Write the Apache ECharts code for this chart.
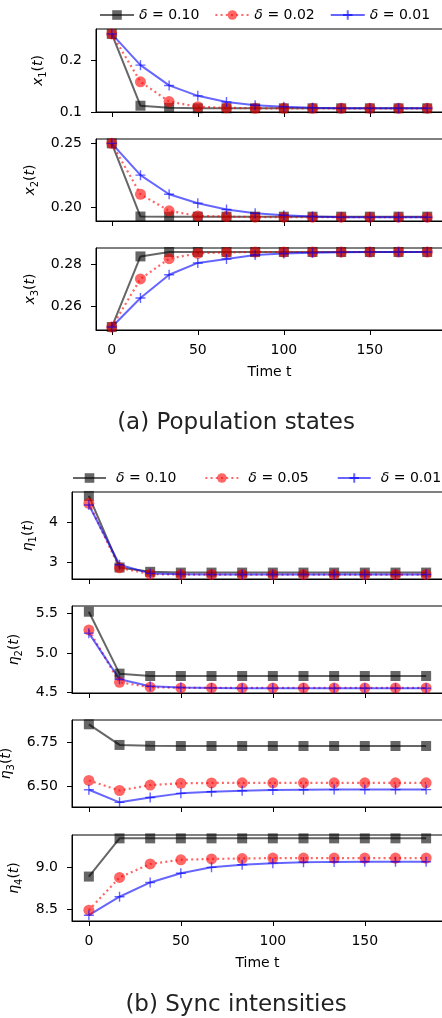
<!DOCTYPE html>
<html>
<head>
<meta charset="UTF-8">
<title>Population states / Sync intensities</title>
<script src="https://cdn.jsdelivr.net/npm/echarts@6/dist/echarts.min.js"></script>
<style>
  html, body { margin: 0; padding: 0; background: #fff; }
  #main { width: 442px; height: 1018px; }
</style>
</head>
<body>
<div id="main"></div>
<script>
// time samples, shared by every subplot
var T = [0, 16.67, 33.33, 50, 66.67, 83.33, 100, 116.67, 133.33, 150, 166.67, 183.33];
var ticksX = [0, 50, 100, 150];

// (a) population states
var x1_d10 = [0.250, 0.112, 0.108, 0.107, 0.107, 0.107, 0.107, 0.107, 0.107, 0.107, 0.107, 0.107];
var x1_d02 = [0.250, 0.158, 0.120, 0.110, 0.108, 0.107, 0.107, 0.107, 0.107, 0.107, 0.107, 0.107];
var x1_d01 = [0.250, 0.190, 0.151, 0.131, 0.119, 0.113, 0.110, 0.108, 0.107, 0.107, 0.107, 0.107];

var x2_d10 = [0.250, 0.1925, 0.1924, 0.1924, 0.1924, 0.1924, 0.1924, 0.1924, 0.1924, 0.1924, 0.1924, 0.1924];
var x2_d02 = [0.250, 0.210, 0.197, 0.193, 0.1925, 0.192, 0.192, 0.192, 0.192, 0.192, 0.192, 0.192];
var x2_d01 = [0.250, 0.225, 0.210, 0.203, 0.198, 0.195, 0.1935, 0.1925, 0.192, 0.192, 0.192, 0.192];

var x3_d10 = [0.250, 0.2836, 0.2857, 0.2857, 0.2857, 0.2857, 0.2857, 0.2857, 0.2857, 0.2857, 0.2857, 0.2857];
var x3_d02 = [0.250, 0.2729, 0.2825, 0.2851, 0.2855, 0.2857, 0.2857, 0.2857, 0.2857, 0.2857, 0.2857, 0.2857];
var x3_d01 = [0.250, 0.2638, 0.2749, 0.2805, 0.2824, 0.2843, 0.2850, 0.2853, 0.2856, 0.2857, 0.2857, 0.2857];

// (b) sync intensities
var e1_d10 = [4.68, 2.86, 2.75, 2.73, 2.73, 2.73, 2.73, 2.73, 2.73, 2.73, 2.73, 2.73];
var e1_d05 = [4.49, 2.85, 2.69, 2.68, 2.68, 2.68, 2.68, 2.68, 2.68, 2.68, 2.68, 2.68];
var e1_d01 = [4.45, 2.93, 2.71, 2.69, 2.68, 2.68, 2.68, 2.68, 2.68, 2.68, 2.68, 2.68];

var e2_d10 = [5.52, 4.74, 4.71, 4.71, 4.71, 4.71, 4.71, 4.71, 4.71, 4.71, 4.71, 4.71];
var e2_d05 = [5.29, 4.63, 4.57, 4.56, 4.56, 4.56, 4.56, 4.56, 4.56, 4.56, 4.56, 4.56];
var e2_d01 = [5.25, 4.67, 4.58, 4.565, 4.56, 4.555, 4.555, 4.555, 4.555, 4.555, 4.555, 4.555];

var e3_d10 = [6.848, 6.733, 6.728, 6.727, 6.727, 6.727, 6.727, 6.727, 6.727, 6.727, 6.727, 6.727];
var e3_d05 = [6.535, 6.479, 6.509, 6.519, 6.521, 6.522, 6.522, 6.522, 6.522, 6.522, 6.522, 6.522];
var e3_d01 = [6.483, 6.413, 6.440, 6.463, 6.472, 6.478, 6.482, 6.483, 6.484, 6.484, 6.484, 6.484];

var e4_d10 = [8.89, 9.345, 9.345, 9.345, 9.345, 9.345, 9.345, 9.345, 9.345, 9.345, 9.345, 9.345];
var e4_d05 = [8.49, 8.88, 9.04, 9.09, 9.10, 9.105, 9.11, 9.11, 9.11, 9.11, 9.11, 9.11];
var e4_d01 = [8.43, 8.65, 8.82, 8.93, 9.00, 9.03, 9.05, 9.06, 9.065, 9.067, 9.067, 9.067];

// y ticks and their printed labels
var ticksA1 = [0.1, 0.2],        labA1 = ['0.1', '0.2'];
var ticksA2 = [0.20, 0.25],      labA2 = ['0.20', '0.25'];
var ticksA3 = [0.26, 0.28],      labA3 = ['0.26', '0.28'];
var ticksB1 = [3, 4],            labB1 = ['3', '4'];
var ticksB2 = [4.5, 5.0, 5.5],   labB2 = ['4.5', '5.0', '5.5'];
var ticksB3 = [6.50, 6.75],      labB3 = ['6.50', '6.75'];
var ticksB4 = [8.5, 9.0],        labB4 = ['8.5', '9.0'];

var FONT = 'DejaVu Sans';

var styles = {
    black: {
        symbol: 'rect', symbolSize: 10,
        itemStyle: { color: '#000', opacity: 0.6 },
        lineStyle: { color: '#000', width: 2, opacity: 0.6 }
    },
    red: {
        symbol: 'circle', symbolSize: 11,
        itemStyle: { color: '#f00', opacity: 0.6 },
        lineStyle: { color: '#f00', width: 2.2, type: [2, 3.2], opacity: 0.6 }
    },
    blue: {
        symbol: 'path://M5,0L5,10M0,5L10,5', symbolSize: 10,
        itemStyle: { color: '#00f', borderColor: '#00f', borderWidth: 1.4, opacity: 0.6 },
        lineStyle: { color: '#00f', width: 2, opacity: 0.6 }
    }
};

// layout of the seven subplots
var plots = [
    { left: 96, top: 29,  width: 347, height: 83, min: 0.0999, max: 0.2595, ticks: ticksA1, labs: labA1, name: ['x', '1'], gap: 44, last: false,
      s: [['δ = 0.10', 'black', x1_d10], ['δ = 0.02', 'red', x1_d02], ['δ = 0.01', 'blue', x1_d01]] },
    { left: 96, top: 139, width: 347, height: 82, min: 0.189, max: 0.2534, ticks: ticksA2, labs: labA2, name: ['x', '2'], gap: 54, last: false,
      s: [['δ = 0.10', 'black', x2_d10], ['δ = 0.02', 'red', x2_d02], ['δ = 0.01', 'blue', x2_d01]] },
    { left: 96, top: 248, width: 347, height: 82, min: 0.2486, max: 0.2876, ticks: ticksA3, labs: labA3, name: ['x', '3'], gap: 53, last: true,
      s: [['δ = 0.10', 'black', x3_d10], ['δ = 0.02', 'red', x3_d02], ['δ = 0.01', 'blue', x3_d01]] },
    { left: 72, top: 492, width: 371, height: 87, min: 2.567, max: 4.78, ticks: ticksB1, labs: labB1, name: ['η', '1'], gap: 30, last: false,
      s: [['δ = 0.10', 'black', e1_d10], ['δ = 0.05', 'red', e1_d05], ['δ = 0.01', 'blue', e1_d01]] },
    { left: 72, top: 606, width: 371, height: 87, min: 4.496, max: 5.592, ticks: ticksB2, labs: labB2, name: ['η', '2'], gap: 43, last: false,
      s: [['δ = 0.10', 'black', e2_d10], ['δ = 0.05', 'red', e2_d05], ['δ = 0.01', 'blue', e2_d01]] },
    { left: 72, top: 720, width: 371, height: 87, min: 6.387, max: 6.872, ticks: ticksB3, labs: labB3, name: ['η', '3'], gap: 53, last: false,
      s: [['δ = 0.10', 'black', e3_d10], ['δ = 0.05', 'red', e3_d05], ['δ = 0.01', 'blue', e3_d01]] },
    { left: 72, top: 835, width: 371, height: 86, min: 8.361, max: 9.385, ticks: ticksB4, labs: labB4, name: ['η', '4'], gap: 45, last: true,
      s: [['δ = 0.10', 'black', e4_d10], ['δ = 0.05', 'red', e4_d05], ['δ = 0.01', 'blue', e4_d01]] }
];

var nameRich = {
    i: { fontFamily: FONT, fontSize: 14, fontStyle: 'italic', color: '#000', lineHeight: 20, verticalAlign: 'middle' },
    n: { fontFamily: FONT, fontSize: 14, color: '#000', lineHeight: 20, verticalAlign: 'middle' },
    s: { fontFamily: FONT, fontSize: 10, color: '#000', lineHeight: 12, verticalAlign: 'bottom' }
};

var grids = [], xAxes = [], yAxes = [], series = [];
plots.forEach(function (p, k) {
    grids.push({ left: p.left, top: p.top, width: p.width, height: p.height, show: true,
                 outerBoundsMode: 'none', containLabel: false,
                 borderColor: '#000', borderWidth: 1, backgroundColor: 'transparent' });
    xAxes.push({
        gridIndex: k, type: 'value', min: -9.17, max: 192.5,
        axisLine: { show: true, onZero: false, lineStyle: { color: '#000', width: 1 } },
        axisTick: { show: true, customValues: ticksX, length: 5, lineStyle: { color: '#000', width: 1 } },
        axisLabel: { show: p.last, customValues: ticksX, margin: 13, color: '#000', fontFamily: FONT, fontSize: 14 },
        splitLine: { show: false },
        name: p.last ? 'Time t' : '', nameLocation: 'middle', nameGap: 35,
        nameTextStyle: { fontFamily: FONT, fontSize: 14, color: '#000' }
    });
    var labs = p.labs, ticks = p.ticks;
    yAxes.push({
        gridIndex: k, type: 'value', min: p.min, max: p.max,
        axisLine: { show: true, onZero: false, lineStyle: { color: '#000', width: 1 } },
        axisTick: { show: true, customValues: ticks, length: 5, lineStyle: { color: '#000', width: 1 } },
        axisLabel: {
            customValues: ticks, margin: 14, color: '#000', fontFamily: FONT, fontSize: 14,
            formatter: function (v) {
                for (var j = 0; j < ticks.length; j++) if (Math.abs(ticks[j] - v) < 1e-9) return labs[j];
                return '';
            }
        },
        splitLine: { show: false },
        name: '{i|' + p.name[0] + '}{s|' + p.name[1] + '}{n|(}{i|t}{n|)}',
        nameLocation: 'middle', nameRotate: 90, nameGap: p.gap,
        nameTextStyle: { rich: nameRich }
    });
    p.s.forEach(function (s) {
        var st = styles[s[1]];
        series.push({
            name: s[0], type: 'line', xAxisIndex: k, yAxisIndex: k,
            data: T.map(function (t, i) { return [t, s[2][i]]; }),
            symbol: st.symbol, symbolSize: st.symbolSize,
            itemStyle: st.itemStyle, lineStyle: st.lineStyle,
            showAllSymbol: true, silent: true, emphasis: { disabled: true }
        });
    });
});

var legendRich = {
    i: { fontFamily: FONT, fontSize: 14, fontStyle: 'italic', color: '#000' },
    n: { fontFamily: FONT, fontSize: 14, color: '#000' }
};
function legendFmt(name) {
    var parts = name.split(' = ');
    return '{i|' + parts[0] + '}{n| = ' + parts[1] + '}';
}

var option = {
    animation: false,
    backgroundColor: '#fff',
    grid: grids,
    xAxis: xAxes,
    yAxis: yAxes,
    series: series,
    legend: [
        { data: ['δ = 0.10', 'δ = 0.02', 'δ = 0.01'], left: 99, top: 8, padding: 0, width: 400,
          itemWidth: 34, itemHeight: 12, itemGap: 15,
          selectedMode: false, formatter: legendFmt, textStyle: { rich: legendRich } },
        { data: ['δ = 0.10', 'δ = 0.05', 'δ = 0.01'], left: 72, top: 471, padding: 0, width: 420,
          itemWidth: 33, itemHeight: 12, itemGap: 28,
          selectedMode: false, formatter: legendFmt, textStyle: { rich: legendRich, padding: [0, 0, 0, 5] } }
    ],
    graphic: [
        { type: 'text', x: 236, y: 423, style: { text: '(a) Population states', fontFamily: FONT, fontSize: 23, fill: '#222', align: 'center', verticalAlign: 'middle' } },
        { type: 'text', x: 236, y: 1005, style: { text: '(b) Sync intensities', fontFamily: FONT, fontSize: 23, fill: '#222', align: 'center', verticalAlign: 'middle' } }
    ]
};

var chart = echarts.init(document.getElementById('main'));
chart.setOption(option);
</script>
</body>
</html>
